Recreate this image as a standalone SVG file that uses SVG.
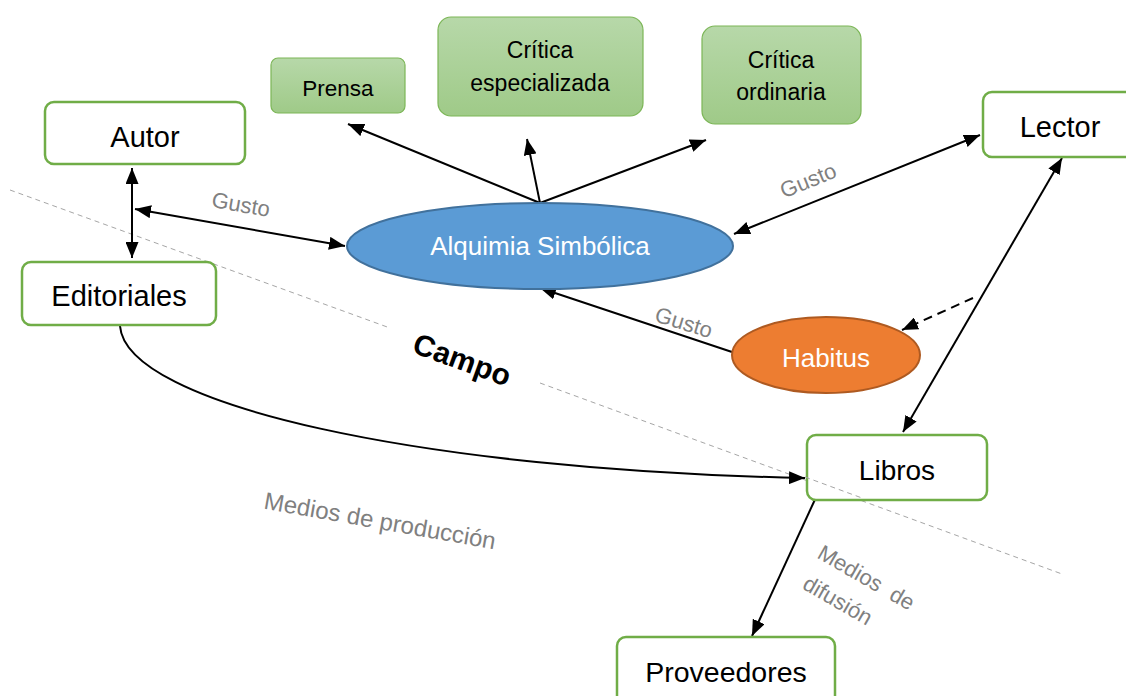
<svg xmlns="http://www.w3.org/2000/svg" width="1126" height="696" viewBox="0 0 1126 696">
<defs>
<linearGradient id="gg" x1="0" y1="0" x2="0" y2="1"><stop offset="0" stop-color="#b7d8a9"/><stop offset="1" stop-color="#9fca88"/></linearGradient>
<marker id="ah" viewBox="0 0 10 10" refX="10" refY="5" markerWidth="8" markerHeight="6.5" preserveAspectRatio="none" markerUnits="strokeWidth" orient="auto-start-reverse"><path d="M0,0 L10,5 L0,10 z" fill="#000"/></marker>
</defs>
<style>
.wb{fill:#fff;stroke:#70ad47;stroke-width:2.5}
.gb{fill:url(#gg);stroke:#7cb657;stroke-width:1.2}
.t{font-family:"Liberation Sans",Arial,sans-serif;fill:#000;text-anchor:middle}
.lbl{font-family:"Liberation Sans",Arial,sans-serif;fill:#808080;text-anchor:middle}
.c{fill:none;stroke:#000;stroke-width:2}
</style>
<line x1="10" y1="190" x2="390" y2="328" stroke="#a6a6a6" stroke-width="1" stroke-dasharray="5,4"/>
<line x1="540" y1="383" x2="1062" y2="574" stroke="#a6a6a6" stroke-width="1" stroke-dasharray="5,4"/>
<text class="t" x="462" y="370" font-size="30" font-weight="bold" transform="rotate(20 462 360)">Campo</text>
<text class="lbl" x="380" y="529" font-size="24" transform="rotate(10 380 521)">Medios de producción</text>
<text class="lbl" x="866" y="585" font-size="22" xml:space="preserve" transform="rotate(30 866 578)">Medios  de</text>
<text class="lbl" x="838" y="608" font-size="22" transform="rotate(30 838 600)">difusión</text>
<g id="connectors">
<line class="c" x1="132" y1="168" x2="132" y2="258" marker-start="url(#ah)" marker-end="url(#ah)"/>
<line class="c" x1="135" y1="209" x2="345" y2="246" marker-start="url(#ah)" marker-end="url(#ah)"/>
<line class="c" x1="540" y1="203" x2="348" y2="124" marker-end="url(#ah)"/>
<line class="c" x1="540" y1="203" x2="527" y2="139" marker-end="url(#ah)"/>
<line class="c" x1="540" y1="203" x2="706" y2="140" marker-end="url(#ah)"/>
<line class="c" x1="734" y1="234" x2="980" y2="135" marker-start="url(#ah)" marker-end="url(#ah)"/>
<line class="c" x1="732" y1="352" x2="540" y2="288" marker-end="url(#ah)"/>
<line class="c" x1="973" y1="298" x2="902" y2="330" stroke-dasharray="9,6" marker-end="url(#ah)"/>
<line class="c" x1="1062" y1="158" x2="903" y2="432" marker-start="url(#ah)" marker-end="url(#ah)"/>
<path class="c" d="M120,326 C126,405 420,470 805,478" marker-end="url(#ah)"/>
<line class="c" x1="818" y1="493" x2="752" y2="636" marker-end="url(#ah)"/>
<text class="lbl" x="241" y="212" font-size="22" transform="rotate(10 241 204)">Gusto</text>
<text class="lbl" x="808" y="188" font-size="22" transform="rotate(-22 808 180)">Gusto</text>
<text class="lbl" x="684" y="330" font-size="22" transform="rotate(17 684 322)">Gusto</text>
</g>
<g id="autor"><rect class="wb" x="45" y="102" width="200" height="62" rx="9"/><text class="t" x="145" y="147" font-size="29">Autor</text></g>
<g id="editoriales"><rect class="wb" x="22" y="262" width="194" height="63" rx="9"/><text class="t" x="119" y="306" font-size="29">Editoriales</text></g>
<g id="prensa"><rect class="gb" x="271" y="58" width="134" height="55" rx="7"/><text class="t" x="338" y="96" font-size="22.5">Prensa</text></g>
<g id="critica-especializada"><rect class="gb" x="438" y="17" width="205" height="99" rx="13"/><text class="t" x="540" y="58" font-size="23">Crítica</text><text class="t" x="540" y="91" font-size="23">especializada</text></g>
<g id="critica-ordinaria"><rect class="gb" x="702" y="26" width="159" height="98" rx="13"/><text class="t" x="781" y="68" font-size="23">Crítica</text><text class="t" x="781" y="100" font-size="23">ordinaria</text></g>
<g id="lector"><rect class="wb" x="983" y="92" width="160" height="65" rx="9"/><text class="t" x="1060" y="137" font-size="29">Lector</text></g>
<g id="alquimia"><ellipse cx="540" cy="246" rx="193" ry="43" fill="#5b9bd5" stroke="#41719c" stroke-width="2"/><text class="t" x="540" y="255" font-size="26" style="fill:#fff">Alquimia Simbólica</text></g>
<g id="habitus"><ellipse cx="826" cy="355" rx="94" ry="38" fill="#ed7d31" stroke="#ae5a21" stroke-width="2"/><text class="t" x="826" y="367" font-size="26" style="fill:#fff">Habitus</text></g>
<g id="libros"><rect class="wb" x="807" y="435" width="180" height="65" rx="9"/><text class="t" x="897" y="480" font-size="28">Libros</text></g>
<g id="proveedores"><rect class="wb" x="617" y="637" width="218" height="70" rx="9"/><text class="t" x="726" y="682" font-size="28.5">Proveedores</text></g>
<line x1="805" y1="477" x2="862" y2="498" stroke="#a6a6a6" stroke-width="1" stroke-dasharray="5,4"/>
</svg>
